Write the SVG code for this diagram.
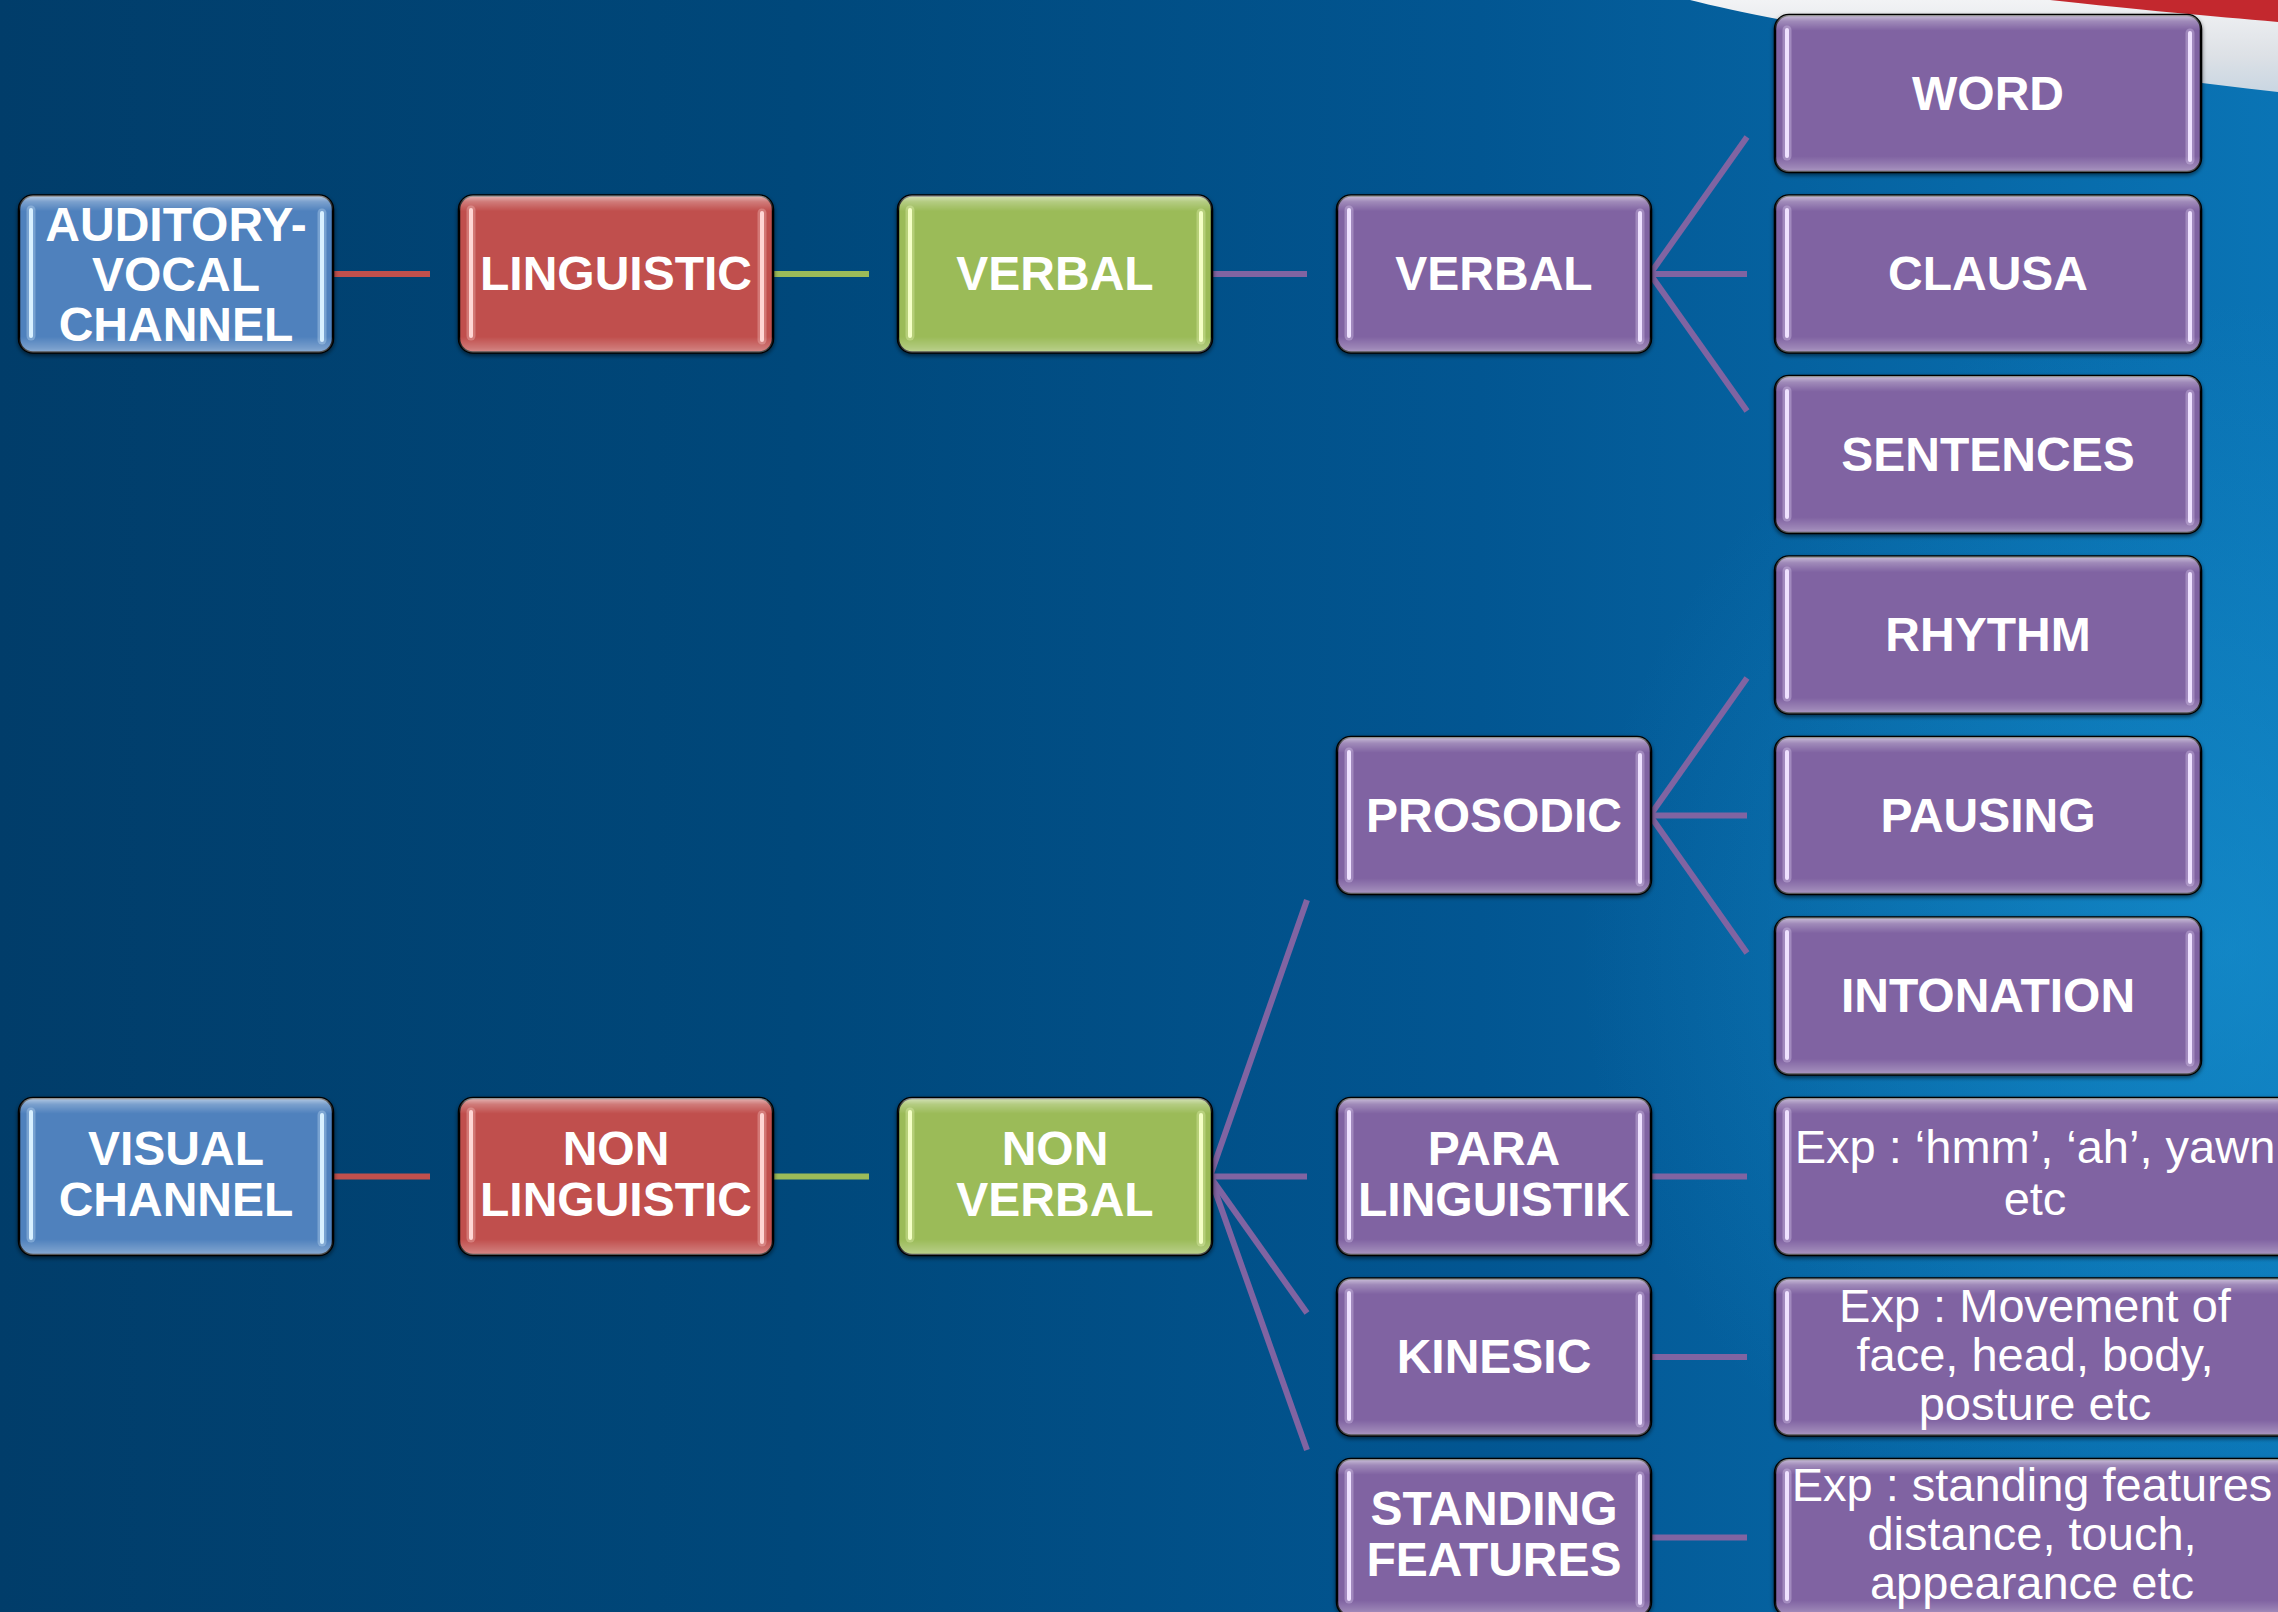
<svg xmlns="http://www.w3.org/2000/svg" width="2278" height="1612" viewBox="0 0 2278 1612">
<defs>
  <linearGradient id="bg" x1="0" y1="0" x2="1" y2="0">
    <stop offset="0" stop-color="#013d6a"/>
    <stop offset="0.35" stop-color="#00487b"/>
    <stop offset="0.65" stop-color="#025692"/>
    <stop offset="1" stop-color="#0a74b5"/>
  </linearGradient>
  <radialGradient id="glow" cx="2230" cy="950" r="650" gradientUnits="userSpaceOnUse">
    <stop offset="0" stop-color="#1b9ad8" stop-opacity="0.5"/>
    <stop offset="1" stop-color="#1b9ad8" stop-opacity="0"/>
  </radialGradient>
  <linearGradient id="swoosh" x1="0" y1="0" x2="0" y2="1">
    <stop offset="0" stop-color="#f2f3f5"/>
    <stop offset="0.6" stop-color="#dde1e6"/>
    <stop offset="1" stop-color="#c9d6e2"/>
  </linearGradient>
  <linearGradient id="gloss" x1="0" y1="0" x2="0" y2="1">
    <stop offset="0" stop-color="#fff" stop-opacity="0.6"/>
    <stop offset="0.04" stop-color="#fff" stop-opacity="0.25"/>
    <stop offset="0.1" stop-color="#fff" stop-opacity="0"/>
    <stop offset="0.9" stop-color="#fff" stop-opacity="0"/>
    <stop offset="0.97" stop-color="#fff" stop-opacity="0.22"/>
    <stop offset="1" stop-color="#fff" stop-opacity="0.35"/>
  </linearGradient>
  <filter id="shadow" x="-5%" y="-5%" width="110%" height="115%">
    <feDropShadow dx="0" dy="2" stdDeviation="2" flood-color="#000" flood-opacity="0.55"/>
  </filter>
</defs>
<style>
  .base { stroke: #050505; stroke-width: 2.5; filter: url(#shadow); }
  .gl { fill: url(#gloss); }
  .blue .base { fill: #4f81bd; }
  .red .base { fill: #c0504d; }
  .green .base { fill: #9bbb59; }
  .purple .base { fill: #8064a2; }
  .hl { stroke-linecap: round; fill: none; }
  .hlw { stroke-width: 9; stroke-opacity: 0.3; }
  .hlc { stroke-width: 4; }
  .blue .hl { stroke: #d8f0ff; }
  .red .hl { stroke: #ffd6d4; }
  .green .hl { stroke: #f4ffc6; }
  .purple .hl { stroke: #efe2ff; }
  text { fill: #ffffff; text-anchor: middle; font-family: "Liberation Sans", Arial, sans-serif; }
  .b { font-weight: bold; font-size: 48px; }
  .r { font-weight: normal; font-size: 47px; }
  .conn line { stroke-width: 6; stroke-linecap: butt; }
  .cr { stroke: #c0504d; }
  .cg { stroke: #9bbb59; }
  .cp { stroke: #8064a2; }
</style>

<g id="background">
  <rect x="0" y="0" width="2278" height="1612" fill="url(#bg)"/>
  <rect x="0" y="0" width="2278" height="1612" fill="url(#glow)"/>
  <path d="M1690,0 C1800,28 2050,66 2278,92 L2278,0 Z" fill="url(#swoosh)"/>
  <path d="M2050,0 C2140,10 2210,16 2278,22 L2278,0 Z" fill="#c3282e"/>
</g>

<g id="connectors" class="conn">
  <line class="cr" x1="333" y1="274" x2="430" y2="274"/>
  <line class="cg" x1="771" y1="274" x2="869" y2="274"/>
  <line class="cp" x1="1210" y1="274" x2="1307" y2="274"/>
  <line class="cp" x1="1650" y1="274" x2="1747" y2="137"/>
  <line class="cp" x1="1650" y1="274" x2="1747" y2="274"/>
  <line class="cp" x1="1650" y1="274" x2="1747" y2="411"/>
  <line class="cp" x1="1650" y1="815.5" x2="1747" y2="678"/>
  <line class="cp" x1="1650" y1="815.5" x2="1747" y2="815.5"/>
  <line class="cp" x1="1650" y1="815.5" x2="1747" y2="953"/>
  <line class="cr" x1="333" y1="1176.5" x2="430" y2="1176.5"/>
  <line class="cg" x1="771" y1="1176.5" x2="869" y2="1176.5"/>
  <line class="cp" x1="1210" y1="1176.5" x2="1307" y2="900"/>
  <line class="cp" x1="1210" y1="1176.5" x2="1307" y2="1176.5"/>
  <line class="cp" x1="1210" y1="1176.5" x2="1307" y2="1313"/>
  <line class="cp" x1="1210" y1="1176.5" x2="1307" y2="1450"/>
  <line class="cp" x1="1650" y1="1176.5" x2="1747" y2="1176.5"/>
  <line class="cp" x1="1650" y1="1357" x2="1747" y2="1357"/>
  <line class="cp" x1="1650" y1="1537.5" x2="1747" y2="1537.5"/>
</g>

<g id="auditory-vocal-channel" class="blue">
  <rect class="base" x="19" y="195.5" width="314" height="157" rx="14"/>
  <rect class="gl" x="19" y="195.5" width="314" height="157" rx="14"/>
  <line class="hl hlw" x1="31" y1="210" x2="31" y2="336"/><line class="hl hlc" x1="31" y1="210" x2="31" y2="336"/>
  <line class="hl hlw" x1="322" y1="213" x2="322" y2="340"/><line class="hl hlc" x1="322" y1="213" x2="322" y2="340"/>
  <text class="b" x="176" y="241">AUDITORY-</text>
  <text class="b" x="176" y="291">VOCAL</text>
  <text class="b" x="176" y="341">CHANNEL</text>
</g>

<g id="linguistic" class="red">
  <rect class="base" x="459" y="195.5" width="314" height="157" rx="14"/>
  <rect class="gl" x="459" y="195.5" width="314" height="157" rx="14"/>
  <line class="hl hlw" x1="471" y1="210" x2="471" y2="336"/><line class="hl hlc" x1="471" y1="210" x2="471" y2="336"/>
  <line class="hl hlw" x1="762" y1="213" x2="762" y2="340"/><line class="hl hlc" x1="762" y1="213" x2="762" y2="340"/>
  <text class="b" x="616" y="290">LINGUISTIC</text>
</g>

<g id="verbal-green" class="green">
  <rect class="base" x="898" y="195.5" width="314" height="157" rx="14"/>
  <rect class="gl" x="898" y="195.5" width="314" height="157" rx="14"/>
  <line class="hl hlw" x1="910" y1="210" x2="910" y2="336"/><line class="hl hlc" x1="910" y1="210" x2="910" y2="336"/>
  <line class="hl hlw" x1="1201" y1="213" x2="1201" y2="340"/><line class="hl hlc" x1="1201" y1="213" x2="1201" y2="340"/>
  <text class="b" x="1055" y="290">VERBAL</text>
</g>

<g id="verbal-purple" class="purple">
  <rect class="base" x="1337" y="195.5" width="314" height="157" rx="14"/>
  <rect class="gl" x="1337" y="195.5" width="314" height="157" rx="14"/>
  <line class="hl hlw" x1="1349" y1="210" x2="1349" y2="336"/><line class="hl hlc" x1="1349" y1="210" x2="1349" y2="336"/>
  <line class="hl hlw" x1="1640" y1="213" x2="1640" y2="340"/><line class="hl hlc" x1="1640" y1="213" x2="1640" y2="340"/>
  <text class="b" x="1494" y="290">VERBAL</text>
</g>

<g id="word" class="purple">
  <rect class="base" x="1775" y="15" width="426" height="157" rx="14"/>
  <rect class="gl" x="1775" y="15" width="426" height="157" rx="14"/>
  <line class="hl hlw" x1="1787" y1="30" x2="1787" y2="156"/><line class="hl hlc" x1="1787" y1="30" x2="1787" y2="156"/>
  <line class="hl hlw" x1="2190" y1="33" x2="2190" y2="160"/><line class="hl hlc" x1="2190" y1="33" x2="2190" y2="160"/>
  <text class="b" x="1988" y="109.5">WORD</text>
</g>

<g id="clausa" class="purple">
  <rect class="base" x="1775" y="195.5" width="426" height="157" rx="14"/>
  <rect class="gl" x="1775" y="195.5" width="426" height="157" rx="14"/>
  <line class="hl hlw" x1="1787" y1="210" x2="1787" y2="336"/><line class="hl hlc" x1="1787" y1="210" x2="1787" y2="336"/>
  <line class="hl hlw" x1="2190" y1="213" x2="2190" y2="340"/><line class="hl hlc" x1="2190" y1="213" x2="2190" y2="340"/>
  <text class="b" x="1988" y="290">CLAUSA</text>
</g>

<g id="sentences" class="purple">
  <rect class="base" x="1775" y="376" width="426" height="157" rx="14"/>
  <rect class="gl" x="1775" y="376" width="426" height="157" rx="14"/>
  <line class="hl hlw" x1="1787" y1="391" x2="1787" y2="517"/><line class="hl hlc" x1="1787" y1="391" x2="1787" y2="517"/>
  <line class="hl hlw" x1="2190" y1="394" x2="2190" y2="521"/><line class="hl hlc" x1="2190" y1="394" x2="2190" y2="521"/>
  <text class="b" x="1988" y="470.5">SENTENCES</text>
</g>

<g id="rhythm" class="purple">
  <rect class="base" x="1775" y="556.5" width="426" height="157" rx="14"/>
  <rect class="gl" x="1775" y="556.5" width="426" height="157" rx="14"/>
  <line class="hl hlw" x1="1787" y1="571" x2="1787" y2="697"/><line class="hl hlc" x1="1787" y1="571" x2="1787" y2="697"/>
  <line class="hl hlw" x1="2190" y1="574" x2="2190" y2="701"/><line class="hl hlc" x1="2190" y1="574" x2="2190" y2="701"/>
  <text class="b" x="1988" y="651">RHYTHM</text>
</g>

<g id="pausing" class="purple">
  <rect class="base" x="1775" y="737" width="426" height="157" rx="14"/>
  <rect class="gl" x="1775" y="737" width="426" height="157" rx="14"/>
  <line class="hl hlw" x1="1787" y1="752" x2="1787" y2="878"/><line class="hl hlc" x1="1787" y1="752" x2="1787" y2="878"/>
  <line class="hl hlw" x1="2190" y1="755" x2="2190" y2="882"/><line class="hl hlc" x1="2190" y1="755" x2="2190" y2="882"/>
  <text class="b" x="1988" y="831.5">PAUSING</text>
</g>

<g id="intonation" class="purple">
  <rect class="base" x="1775" y="917.5" width="426" height="157" rx="14"/>
  <rect class="gl" x="1775" y="917.5" width="426" height="157" rx="14"/>
  <line class="hl hlw" x1="1787" y1="932" x2="1787" y2="1058"/><line class="hl hlc" x1="1787" y1="932" x2="1787" y2="1058"/>
  <line class="hl hlw" x1="2190" y1="935" x2="2190" y2="1062"/><line class="hl hlc" x1="2190" y1="935" x2="2190" y2="1062"/>
  <text class="b" x="1988" y="1012">INTONATION</text>
</g>

<g id="prosodic" class="purple">
  <rect class="base" x="1337" y="737" width="314" height="157" rx="14"/>
  <rect class="gl" x="1337" y="737" width="314" height="157" rx="14"/>
  <line class="hl hlw" x1="1349" y1="752" x2="1349" y2="878"/><line class="hl hlc" x1="1349" y1="752" x2="1349" y2="878"/>
  <line class="hl hlw" x1="1640" y1="755" x2="1640" y2="882"/><line class="hl hlc" x1="1640" y1="755" x2="1640" y2="882"/>
  <text class="b" x="1494" y="831.5">PROSODIC</text>
</g>

<g id="visual-channel" class="blue">
  <rect class="base" x="19" y="1098" width="314" height="157" rx="14"/>
  <rect class="gl" x="19" y="1098" width="314" height="157" rx="14"/>
  <line class="hl hlw" x1="31" y1="1112" x2="31" y2="1238"/><line class="hl hlc" x1="31" y1="1112" x2="31" y2="1238"/>
  <line class="hl hlw" x1="322" y1="1115" x2="322" y2="1242"/><line class="hl hlc" x1="322" y1="1115" x2="322" y2="1242"/>
  <text class="b" x="176" y="1165">VISUAL</text>
  <text class="b" x="176" y="1216">CHANNEL</text>
</g>

<g id="non-linguistic" class="red">
  <rect class="base" x="459" y="1098" width="314" height="157" rx="14"/>
  <rect class="gl" x="459" y="1098" width="314" height="157" rx="14"/>
  <line class="hl hlw" x1="471" y1="1112" x2="471" y2="1238"/><line class="hl hlc" x1="471" y1="1112" x2="471" y2="1238"/>
  <line class="hl hlw" x1="762" y1="1115" x2="762" y2="1242"/><line class="hl hlc" x1="762" y1="1115" x2="762" y2="1242"/>
  <text class="b" x="616" y="1165">NON</text>
  <text class="b" x="616" y="1216">LINGUISTIC</text>
</g>

<g id="non-verbal" class="green">
  <rect class="base" x="898" y="1098" width="314" height="157" rx="14"/>
  <rect class="gl" x="898" y="1098" width="314" height="157" rx="14"/>
  <line class="hl hlw" x1="910" y1="1112" x2="910" y2="1238"/><line class="hl hlc" x1="910" y1="1112" x2="910" y2="1238"/>
  <line class="hl hlw" x1="1201" y1="1115" x2="1201" y2="1242"/><line class="hl hlc" x1="1201" y1="1115" x2="1201" y2="1242"/>
  <text class="b" x="1055" y="1165">NON</text>
  <text class="b" x="1055" y="1216">VERBAL</text>
</g>

<g id="para-linguistik" class="purple">
  <rect class="base" x="1337" y="1098" width="314" height="157" rx="14"/>
  <rect class="gl" x="1337" y="1098" width="314" height="157" rx="14"/>
  <line class="hl hlw" x1="1349" y1="1112" x2="1349" y2="1238"/><line class="hl hlc" x1="1349" y1="1112" x2="1349" y2="1238"/>
  <line class="hl hlw" x1="1640" y1="1115" x2="1640" y2="1242"/><line class="hl hlc" x1="1640" y1="1115" x2="1640" y2="1242"/>
  <text class="b" x="1494" y="1165">PARA</text>
  <text class="b" x="1494" y="1216">LINGUISTIK</text>
</g>

<g id="kinesic" class="purple">
  <rect class="base" x="1337" y="1278.5" width="314" height="157" rx="14"/>
  <rect class="gl" x="1337" y="1278.5" width="314" height="157" rx="14"/>
  <line class="hl hlw" x1="1349" y1="1293" x2="1349" y2="1419"/><line class="hl hlc" x1="1349" y1="1293" x2="1349" y2="1419"/>
  <line class="hl hlw" x1="1640" y1="1296" x2="1640" y2="1423"/><line class="hl hlc" x1="1640" y1="1296" x2="1640" y2="1423"/>
  <text class="b" x="1494" y="1373">KINESIC</text>
</g>

<g id="standing-features" class="purple">
  <rect class="base" x="1337" y="1459" width="314" height="157" rx="14"/>
  <rect class="gl" x="1337" y="1459" width="314" height="157" rx="14"/>
  <line class="hl hlw" x1="1349" y1="1473" x2="1349" y2="1599"/><line class="hl hlc" x1="1349" y1="1473" x2="1349" y2="1599"/>
  <line class="hl hlw" x1="1640" y1="1476" x2="1640" y2="1603"/><line class="hl hlc" x1="1640" y1="1476" x2="1640" y2="1603"/>
  <text class="b" x="1494" y="1525">STANDING</text>
  <text class="b" x="1494" y="1576">FEATURES</text>
</g>

<g id="exp-para" class="purple">
  <rect class="base" x="1775" y="1098" width="522" height="157" rx="14"/>
  <rect class="gl" x="1775" y="1098" width="522" height="157" rx="14"/>
  <line class="hl hlw" x1="1787" y1="1112" x2="1787" y2="1238"/><line class="hl hlc" x1="1787" y1="1112" x2="1787" y2="1238"/>
  <text class="r" x="2035" y="1163">Exp : ‘hmm’, ‘ah’, yawn</text>
  <text class="r" x="2035" y="1215">etc</text>
</g>

<g id="exp-kinesic" class="purple">
  <rect class="base" x="1775" y="1278.5" width="522" height="157" rx="14"/>
  <rect class="gl" x="1775" y="1278.5" width="522" height="157" rx="14"/>
  <line class="hl hlw" x1="1787" y1="1293" x2="1787" y2="1419"/><line class="hl hlc" x1="1787" y1="1293" x2="1787" y2="1419"/>
  <text class="r" x="2035" y="1322">Exp : Movement of</text>
  <text class="r" x="2035" y="1371">face, head, body,</text>
  <text class="r" x="2035" y="1420">posture etc</text>
</g>

<g id="exp-standing" class="purple">
  <rect class="base" x="1775" y="1459" width="522" height="157" rx="14"/>
  <rect class="gl" x="1775" y="1459" width="522" height="157" rx="14"/>
  <line class="hl hlw" x1="1787" y1="1473" x2="1787" y2="1599"/><line class="hl hlc" x1="1787" y1="1473" x2="1787" y2="1599"/>
  <text class="r" x="2032" y="1501">Exp : standing features</text>
  <text class="r" x="2032" y="1550">distance, touch,</text>
  <text class="r" x="2032" y="1599">appearance etc</text>
</g>
</svg>
